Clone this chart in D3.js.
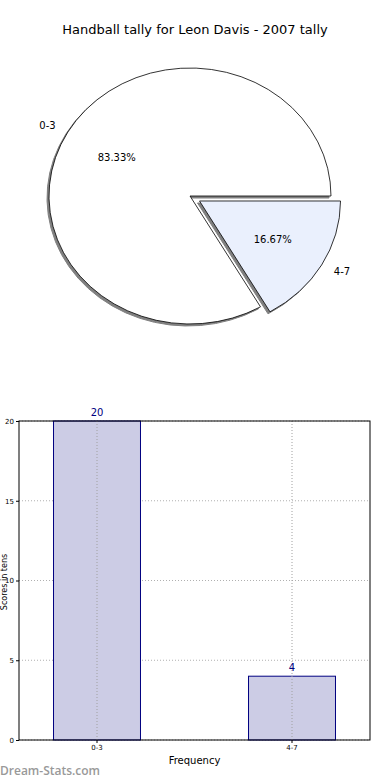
<!DOCTYPE html>
<html>
<head>
<meta charset="utf-8">
<script src="https://cdn.jsdelivr.net/npm/d3@7"></script>
<style>
  body { margin: 0; background: #fff; }
  svg { display: block; font-family: "DejaVu Sans", sans-serif; }
</style>
</head>
<body>
<svg id="chart" width="390" height="780"></svg>
<script>
// Chart data
const title = 'Handball tally for Leon Davis - 2007 tally';
const categories = ['0-3', '4-7'];
const counts = [20, 4];
const pieColors = ['#ffffff', '#eaf0fd'];
const explode = [0, 0.078];
const yTicks = [0, 5, 10, 15, 20];
const yLabel = 'Scores in tens';
const xLabel = 'Frequency';

const svg = d3.select('#chart');

// Title
svg.append('text')
    .attr('x', 195).attr('y', 34)
    .attr('text-anchor', 'middle')
    .attr('font-size', 13)
    .text(title);

// ---- Pie (elliptical, like the stretched matplotlib axes) ----
const cx = 190, cy = 196, rx = 141, ry = 128;
const total = d3.sum(counts);

// matplotlib starts at 3 o'clock going counter-clockwise
const pie = d3.pie().sort(null)
    .startAngle(Math.PI / 2)
    .endAngle(Math.PI / 2 - 2 * Math.PI);
const slices = pie(counts);
const arc = d3.arc().innerRadius(0).outerRadius(1);

// unit-circle point for d3 angle a at radius r
function unitPt(a, r) {
    return [r * Math.sin(a), -r * Math.cos(a)];
}

slices.forEach((s, i) => {
    const mid = (s.startAngle + s.endAngle) / 2;
    const off = unitPt(mid, explode[i]);
    s.ox = off[0];
    s.oy = off[1];
    s.mid = mid;
});

// shadows first
const shadowG = svg.append('g');
slices.forEach(s => {
    shadowG.append('path')
        .attr('transform', `translate(${cx + s.ox * rx - 2},${cy + s.oy * ry + 2}) scale(${rx},${ry})`)
        .attr('d', arc(s))
        .attr('fill', '#808080')
        .attr('stroke', '#808080')
        .attr('stroke-width', 1)
        .attr('vector-effect', 'non-scaling-stroke');
});

const wedgeG = svg.append('g');
slices.forEach((s, i) => {
    wedgeG.append('path')
        .attr('transform', `translate(${cx + s.ox * rx},${cy + s.oy * ry}) scale(${rx},${ry})`)
        .attr('d', arc(s))
        .attr('fill', pieColors[i])
        .attr('stroke', '#000')
        .attr('stroke-width', 0.8)
        .attr('vector-effect', 'non-scaling-stroke');
});

// labels and percentages
const fmt = d3.format('.2f');
slices.forEach((s, i) => {
    const lp = unitPt(s.mid, 1.1);
    const lx = cx + (s.ox + lp[0]) * rx;
    const ly = cy + (s.oy + lp[1]) * ry;
    svg.append('text')
        .attr('x', lx).attr('y', ly)
        .attr('dy', '0.35em')
        .attr('text-anchor', lp[0] < 0 ? 'end' : 'start')
        .attr('font-size', 10)
        .text(categories[i]);

    const pp = unitPt(s.mid, 0.6);
    svg.append('text')
        .attr('x', cx + (s.ox + pp[0]) * rx)
        .attr('y', cy + (s.oy + pp[1]) * ry)
        .attr('dy', '0.35em')
        .attr('text-anchor', 'middle')
        .attr('font-size', 10)
        .text(fmt(counts[i] / total * 100) + '%');
});

// ---- Bar chart ----
const plotLeft = 19, plotRight = 370, plotTop = 421, plotBottom = 740;

const x = d3.scaleBand()
    .domain(categories)
    .range([plotLeft, plotRight])
    .paddingInner(0.554)
    .paddingOuter(0.177);

const y = d3.scaleLinear()
    .domain([0, 20])
    .range([plotBottom, plotTop]);

const grid = svg.append('g')
    .attr('stroke', '#b0b0b0')
    .attr('stroke-dasharray', '1,2');

// horizontal grid
grid.selectAll('line.h')
    .data(yTicks)
    .enter().append('line')
    .attr('x1', plotLeft).attr('x2', plotRight)
    .attr('y1', d => y(d)).attr('y2', d => y(d));

// bars
svg.append('g').selectAll('rect')
    .data(counts)
    .enter().append('rect')
    .attr('x', (d, i) => x(categories[i]))
    .attr('y', d => y(d))
    .attr('width', x.bandwidth())
    .attr('height', d => plotBottom - y(d))
    .attr('fill', '#ccccE5')
    .attr('stroke', '#000080')
    .attr('stroke-width', 1);

// vertical grid on top of bars
const vgrid = svg.append('g')
    .attr('stroke', '#a0a0a0')
    .attr('stroke-dasharray', '1,2');
vgrid.selectAll('line')
    .data(categories)
    .enter().append('line')
    .attr('x1', d => x(d) + x.bandwidth() / 2)
    .attr('x2', d => x(d) + x.bandwidth() / 2)
    .attr('y1', plotTop).attr('y2', plotBottom);

// value labels
svg.append('g').selectAll('text')
    .data(counts)
    .enter().append('text')
    .attr('x', (d, i) => x(categories[i]) + x.bandwidth() / 2)
    .attr('y', d => y(d) - 5)
    .attr('text-anchor', 'middle')
    .attr('font-size', 10)
    .attr('fill', '#000080')
    .text(d => d);

// axes
const yAxis = svg.append('g')
    .attr('transform', `translate(${plotLeft},0)`)
    .call(d3.axisLeft(y).tickValues(yTicks).tickSize(3).tickPadding(2));
yAxis.select('.domain').remove();
yAxis.selectAll('text').attr('font-size', 7).attr('font-family', 'DejaVu Sans');

const xAxis = svg.append('g')
    .attr('transform', `translate(0,${plotBottom})`)
    .call(d3.axisBottom(x).tickSize(3).tickPadding(2));
xAxis.select('.domain').remove();
xAxis.selectAll('text').attr('font-size', 7).attr('font-family', 'DejaVu Sans');

// frame
svg.append('rect')
    .attr('x', plotLeft).attr('y', plotTop)
    .attr('width', plotRight - plotLeft).attr('height', plotBottom - plotTop)
    .attr('fill', 'none')
    .attr('stroke', '#000')
    .attr('stroke-width', 1);

// axis titles
svg.append('text')
    .attr('x', (plotLeft + plotRight) / 2).attr('y', 764)
    .attr('text-anchor', 'middle')
    .attr('font-size', 10)
    .text(xLabel);

svg.append('text')
    .attr('transform', 'translate(6.5,582) rotate(-90)')
    .attr('text-anchor', 'middle')
    .attr('font-size', 8)
    .text(yLabel);

// watermark
svg.append('text')
    .attr('x', 0).attr('y', 775)
    .attr('font-family', '"Open Sans", sans-serif')
    .attr('font-size', 12)
    .attr('font-weight', 600)
    .attr('fill', '#999')
    .text('Dream-Stats.com');
</script>
</body>
</html>
